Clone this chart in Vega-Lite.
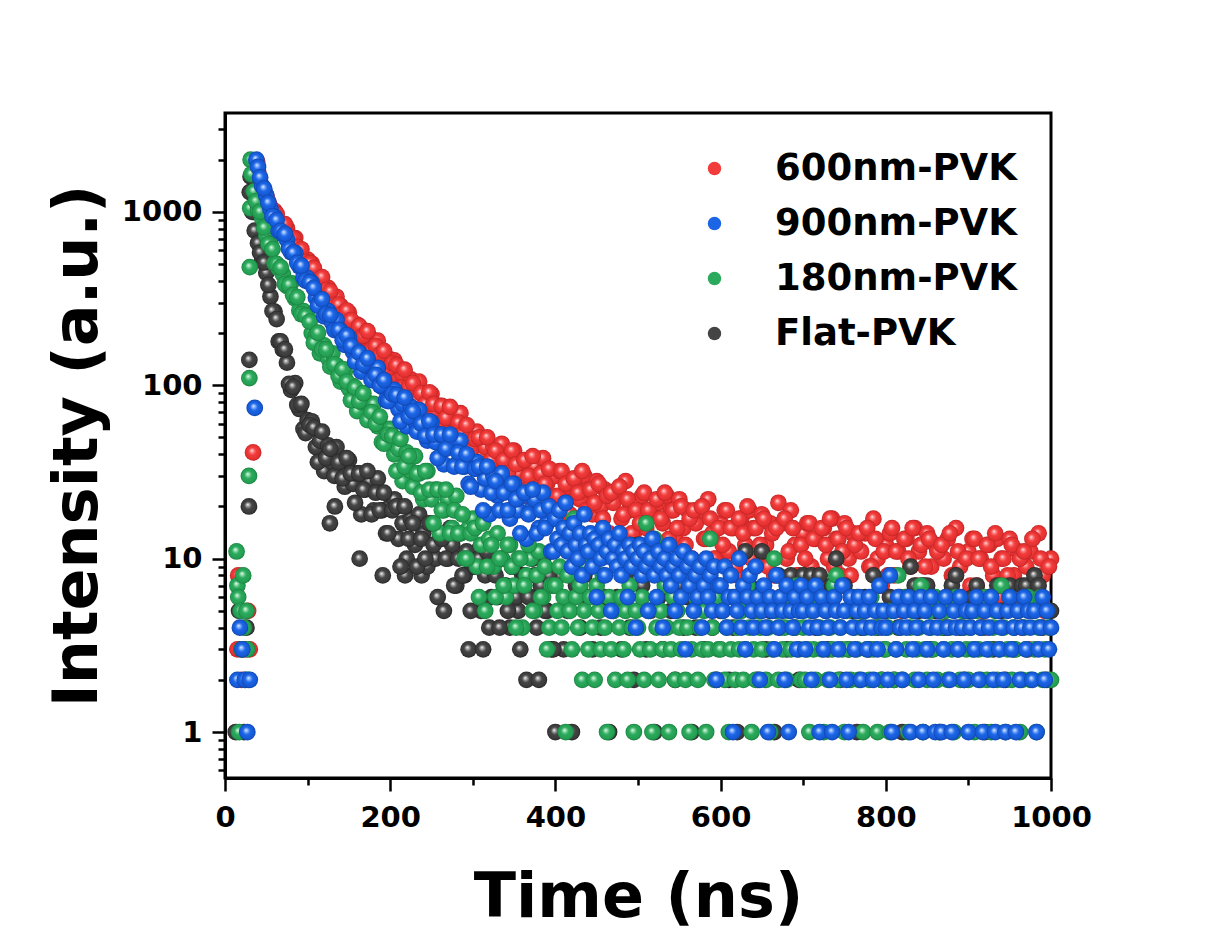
{
"$schema": "https://vega.github.io/schema/vega-lite/v6.json",
"width": 826, "height": 665,
"autosize": {"type": "none"},
"padding": {"left": 225, "top": 113, "right": 157, "bottom": 150},
"background": "white",
"config": {
 "view": {"stroke": "black", "strokeWidth": 3},
 "axis": {"domainColor": "black", "domainWidth": 3, "tickColor": "black", "tickWidth": 2.5, "grid": false,
  "labelFont": "DejaVu Sans", "labelFontWeight": "bold", "labelFontSize": 29, "labelColor": "black",
  "titleFont": "DejaVu Sans", "titleFontWeight": "bold", "titleColor": "black"}
},
"datasets": {
 "legend": [{"s":"600nm-PVK"},{"s":"900nm-PVK"},{"s":"180nm-PVK"},{"s":"Flat-PVK"}],
 "red": [{"t":15,"v":3},{"t":16,"v":8},{"t":20,"v":2},{"t":24,"v":3},{"t":28,"v":5},{"t":30,"v":3},{"t":34,"v":41},{"t":37,"v":1900},{"t":39,"v":1950},
 {"t":40,"v":1716},{"t":45,"v":1313},{"t":50,"v":1245},{"t":55,"v":1070},{"t":60,"v":1012},{"t":65,"v":855},{"t":70,"v":833},{"t":75,"v":805},{"t":80,"v":704},{"t":85,"v":707},{"t":90,"v":605},{"t":95,"v":531},{"t":100,"v":531},{"t":105,"v":504},{"t":110,"v":423},{"t":115,"v":414},{"t":120,"v":347},{"t":125,"v":365},{"t":130,"v":318},{"t":135,"v":324},{"t":140,"v":287},{"t":145,"v":244},{"t":150,"v":262},{"t":155,"v":223},{"t":160,"v":224},{"t":165,"v":179},{"t":170,"v":189},{"t":175,"v":190},{"t":180,"v":160},{"t":185,"v":181},{"t":190,"v":148},{"t":195,"v":128},{"t":200,"v":141},{"t":205,"v":139},{"t":210,"v":111},{"t":215,"v":115},{"t":220,"v":88},{"t":225,"v":108},{"t":230,"v":91},{"t":235,"v":105},{"t":240,"v":90},{"t":245,"v":73},{"t":250,"v":89},{"t":255,"v":71},{"t":260,"v":76},{"t":265,"v":55},{"t":270,"v":65},{"t":275,"v":68},{"t":280,"v":53},{"t":285,"v":69},{"t":290,"v":52},{"t":295,"v":42},{"t":300,"v":51},{"t":305,"v":54},{"t":310,"v":40},{"t":315,"v":44},{"t":320,"v":30},{"t":325,"v":44},{"t":330,"v":36},{"t":335,"v":46},{"t":340,"v":38},{"t":345,"v":29},{"t":350,"v":42},{"t":355,"v":31},{"t":360,"v":36},{"t":365,"v":23},{"t":370,"v":31},{"t":375,"v":34},{"t":380,"v":26},{"t":385,"v":38},{"t":390,"v":27},{"t":395,"v":21},{"t":400,"v":30},{"t":405,"v":32},{"t":410,"v":22},{"t":415,"v":26},{"t":420,"v":16},{"t":425,"v":28},{"t":430,"v":22},{"t":435,"v":30},{"t":440,"v":25},{"t":445,"v":18},{"t":450,"v":28},{"t":455,"v":20},{"t":460,"v":25},{"t":465,"v":14},{"t":470,"v":21},{"t":475,"v":25},{"t":480,"v":17},{"t":485,"v":28},{"t":490,"v":19},{"t":495,"v":14},{"t":500,"v":21},{"t":505,"v":23},{"t":510,"v":15},{"t":515,"v":19},{"t":520,"v":11},{"t":525,"v":21},{"t":530,"v":16},{"t":535,"v":23},{"t":540,"v":19},{"t":545,"v":13},{"t":550,"v":22},{"t":555,"v":15},{"t":560,"v":19},{"t":565,"v":10},{"t":570,"v":16},{"t":575,"v":19},{"t":580,"v":13},{"t":585,"v":22},{"t":590,"v":14},{"t":595,"v":10},{"t":600,"v":16},{"t":605,"v":19},{"t":610,"v":11},{"t":615,"v":15},{"t":620,"v":8},{"t":625,"v":17},{"t":630,"v":12},{"t":635,"v":19},{"t":640,"v":15},{"t":645,"v":10},{"t":650,"v":18},{"t":655,"v":12},{"t":660,"v":16},{"t":665,"v":8},{"t":670,"v":21},{"t":675,"v":16},{"t":680,"v":10},{"t":685,"v":19},{"t":690,"v":12},{"t":695,"v":8},{"t":700,"v":14},{"t":705,"v":16},{"t":710,"v":9},{"t":715,"v":13},{"t":720,"v":6},{"t":725,"v":15},{"t":730,"v":10},{"t":735,"v":17},{"t":740,"v":13},{"t":745,"v":8},{"t":750,"v":16},{"t":755,"v":10},{"t":760,"v":14},{"t":765,"v":6},{"t":770,"v":11},{"t":775,"v":14},{"t":780,"v":9},{"t":785,"v":17},{"t":790,"v":10},{"t":795,"v":7},{"t":800,"v":12},{"t":805,"v":14},{"t":810,"v":8},{"t":815,"v":11},{"t":820,"v":5},{"t":825,"v":13},{"t":830,"v":9},{"t":835,"v":15},{"t":840,"v":11},{"t":845,"v":7},{"t":850,"v":14},{"t":855,"v":9},{"t":860,"v":12},{"t":865,"v":5},{"t":870,"v":10},{"t":875,"v":13},{"t":880,"v":8},{"t":885,"v":15},{"t":890,"v":9},{"t":895,"v":6},{"t":900,"v":11},{"t":905,"v":13},{"t":910,"v":7},{"t":915,"v":10},{"t":920,"v":4},{"t":925,"v":12},{"t":930,"v":8},{"t":935,"v":13},{"t":940,"v":10},{"t":945,"v":6},{"t":950,"v":13},{"t":955,"v":8},{"t":960,"v":11},{"t":965,"v":4},{"t":970,"v":9},{"t":975,"v":11},{"t":980,"v":7},{"t":985,"v":14},{"t":990,"v":8},{"t":995,"v":5},{"t":1000,"v":10},
 {"t":42.5,"v":1473},{"t":47.5,"v":1313},{"t":52.5,"v":1147},{"t":57.5,"v":990},{"t":62.5,"v":973},{"t":67.5,"v":862},{"t":72.5,"v":850},{"t":77.5,"v":726},{"t":82.5,"v":703},{"t":87.5,"v":628},{"t":92.5,"v":609},{"t":97.5,"v":515},{"t":102.5,"v":507},{"t":107.5,"v":475},{"t":112.5,"v":388},{"t":117.5,"v":421},{"t":122.5,"v":355},{"t":127.5,"v":348},{"t":132.5,"v":291},{"t":137.5,"v":292},{"t":142.5,"v":259},{"t":147.5,"v":270},{"t":152.5,"v":238},{"t":157.5,"v":200},{"t":162.5,"v":220},{"t":167.5,"v":193},{"t":172.5,"v":205},{"t":177.5,"v":161},{"t":182.5,"v":169},{"t":187.5,"v":150},{"t":192.5,"v":158},{"t":197.5,"v":125},{"t":202.5,"v":134},{"t":207.5,"v":131},{"t":212.5,"v":97},{"t":217.5,"v":123},{"t":222.5,"v":98},{"t":227.5,"v":103},{"t":232.5,"v":81},{"t":237.5,"v":90},{"t":242.5,"v":78},{"t":247.5,"v":91},{"t":252.5,"v":78},{"t":257.5,"v":60},{"t":262.5,"v":76},{"t":267.5,"v":65},{"t":272.5,"v":75},{"t":277.5,"v":53},{"t":282.5,"v":61},{"t":287.5,"v":52},{"t":292.5,"v":59},{"t":297.5,"v":42},{"t":302.5,"v":49},{"t":307.5,"v":50},{"t":312.5,"v":32},{"t":317.5,"v":50},{"t":322.5,"v":37},{"t":327.5,"v":42},{"t":332.5,"v":30},{"t":337.5,"v":37},{"t":342.5,"v":31},{"t":347.5,"v":42},{"t":352.5,"v":35},{"t":357.5,"v":25},{"t":362.5,"v":37},{"t":367.5,"v":30},{"t":372.5,"v":39},{"t":377.5,"v":24},{"t":382.5,"v":31},{"t":387.5,"v":27},{"t":392.5,"v":33},{"t":397.5,"v":22},
 {"t":402.5,"v":23},{"t":407.5,"v":32},{"t":412.5,"v":27},{"t":417.5,"v":18},{"t":422.5,"v":29},{"t":427.5,"v":24},{"t":432.5,"v":32},{"t":437.5,"v":19},{"t":442.5,"v":25},{"t":447.5,"v":21},{"t":452.5,"v":27},{"t":457.5,"v":17},{"t":462.5,"v":23},{"t":467.5,"v":24},{"t":472.5,"v":12},{"t":477.5,"v":26},{"t":482.5,"v":18},{"t":487.5,"v":22},{"t":492.5,"v":14},{"t":497.5,"v":19},{"t":502.5,"v":16},{"t":507.5,"v":24},{"t":512.5,"v":19},{"t":517.5,"v":12},{"t":522.5,"v":22},{"t":527.5,"v":17},{"t":532.5,"v":24},{"t":537.5,"v":13},{"t":542.5,"v":19},{"t":547.5,"v":15},{"t":552.5,"v":20},{"t":557.5,"v":12},{"t":562.5,"v":17},{"t":567.5,"v":19},{"t":572.5,"v":8},{"t":577.5,"v":20},{"t":582.5,"v":13},{"t":587.5,"v":17},{"t":592.5,"v":10},{"t":597.5,"v":15},{"t":602.5,"v":12},{"t":607.5,"v":19},{"t":612.5,"v":15},{"t":617.5,"v":9},{"t":622.5,"v":17},{"t":627.5,"v":14},{"t":632.5,"v":20},{"t":637.5,"v":10},{"t":642.5,"v":15},{"t":647.5,"v":12},{"t":652.5,"v":17},{"t":657.5,"v":9},{"t":662.5,"v":14},{"t":667.5,"v":15},{"t":672.5,"v":6},{"t":677.5,"v":17},{"t":682.5,"v":11},{"t":687.5,"v":15},{"t":692.5,"v":8},{"t":697.5,"v":12},{"t":702.5,"v":10},{"t":707.5,"v":16},{"t":712.5,"v":13},{"t":717.5,"v":7},{"t":722.5,"v":15},{"t":727.5,"v":12},{"t":732.5,"v":17},{"t":737.5,"v":9},{"t":742.5,"v":13},{"t":747.5,"v":11},{"t":752.5,"v":15},{"t":757.5,"v":8},{"t":762.5,"v":12},{"t":767.5,"v":14},{"t":772.5,"v":5},{"t":777.5,"v":15},{"t":782.5,"v":9},{"t":787.5,"v":13},{"t":792.5,"v":7},{"t":797.5,"v":11},{"t":802.5,"v":8},{"t":807.5,"v":15},{"t":812.5,"v":11},{"t":817.5,"v":6},{"t":822.5,"v":13},{"t":827.5,"v":10},{"t":832.5,"v":15},{"t":837.5,"v":7},{"t":842.5,"v":12},{"t":847.5,"v":9},{"t":852.5,"v":13},{"t":857.5,"v":6},{"t":862.5,"v":11},{"t":867.5,"v":12},{"t":872.5,"v":4},{"t":877.5,"v":14},{"t":882.5,"v":8},{"t":887.5,"v":11},{"t":892.5,"v":6},{"t":897.5,"v":10},{"t":902.5,"v":7},{"t":907.5,"v":13},{"t":912.5,"v":10},{"t":917.5,"v":5},{"t":922.5,"v":12},{"t":927.5,"v":9},{"t":932.5,"v":14},{"t":937.5,"v":6},{"t":942.5,"v":10},{"t":947.5,"v":8},{"t":952.5,"v":12},{"t":957.5,"v":6},{"t":962.5,"v":10},{"t":967.5,"v":11},{"t":972.5,"v":3},{"t":977.5,"v":13},{"t":982.5,"v":7},{"t":987.5,"v":10},{"t":992.5,"v":5},{"t":997.5,"v":9}],
 "black": [{"t":13,"v":1},{"t":17,"v":5},{"t":20,"v":3},{"t":23,"v":1},{"t":26,"v":4},{"t":29,"v":20},{"t":29.5,"v":140},{"t":30,"v":1300},{"t":31,"v":1600},{"t":33,"v":1000},{"t":36,"v":780},
 {"t":40,"v":660},{"t":45,"v":527},{"t":50,"v":446},{"t":55,"v":325},{"t":60,"v":266},{"t":65,"v":179},{"t":70,"v":161},{"t":75,"v":135},{"t":80,"v":94},{"t":85,"v":103},{"t":90,"v":73},{"t":95,"v":56},{"t":100,"v":63},{"t":105,"v":62},{"t":110,"v":44},{"t":115,"v":48},{"t":120,"v":32},{"t":125,"v":45},{"t":127,"v":16},{"t":130,"v":36},{"t":133,"v":20},{"t":135,"v":44},{"t":140,"v":36},{"t":145,"v":26},{"t":150,"v":37},{"t":155,"v":27},{"t":160,"v":31},{"t":163,"v":10},{"t":165,"v":18},{"t":170,"v":25},{"t":175,"v":28},{"t":180,"v":19},{"t":185,"v":29},{"t":190,"v":19},{"t":191,"v":8},{"t":195,"v":14},{"t":200,"v":20},{"t":205,"v":22},{"t":210,"v":13},{"t":215,"v":16},{"t":218,"v":8},{"t":220,"v":10},{"t":225,"v":17},{"t":230,"v":12},{"t":235,"v":18},{"t":238,"v":8},{"t":240,"v":14},{"t":245,"v":9},{"t":250,"v":16},{"t":255,"v":10},{"t":260,"v":13},{"t":265,"v":5},{"t":270,"v":10},{"t":275,"v":12},{"t":280,"v":7},{"t":285,"v":14},{"t":290,"v":8},{"t":295,"v":3},{"t":300,"v":9},{"t":305,"v":11},{"t":310,"v":5},{"t":315,"v":8},{"t":320,"v":4},{"t":325,"v":9},{"t":330,"v":6},{"t":335,"v":10},{"t":340,"v":7},{"t":345,"v":4},{"t":350,"v":9},{"t":355,"v":5},{"t":360,"v":8},{"t":365,"v":2},{"t":370,"v":6},{"t":375,"v":8},{"t":380,"v":2},{"t":385,"v":10},{"t":390,"v":5},{"t":395,"v":3},{"t":400,"v":1},{"t":405,"v":8},{"t":410,"v":3},{"t":415,"v":5},{"t":420,"v":1},{"t":425,"v":7},{"t":430,"v":4},{"t":435,"v":8},{"t":440,"v":6},{"t":445,"v":3},{"t":450,"v":13},{"t":455,"v":4},{"t":460,"v":6},{"t":465,"v":1},{"t":470,"v":5},{"t":475,"v":6},{"t":480,"v":3},{"t":485,"v":8},{"t":490,"v":4},{"t":495,"v":2},{"t":500,"v":12},{"t":505,"v":7},{"t":510,"v":3},{"t":515,"v":5},{"t":520,"v":1},{"t":525,"v":6},{"t":530,"v":3},{"t":535,"v":7},{"t":540,"v":5},{"t":545,"v":2},{"t":550,"v":7},{"t":555,"v":4},{"t":560,"v":6},{"t":565,"v":1},{"t":570,"v":4},{"t":575,"v":6},{"t":580,"v":3},{"t":585,"v":8},{"t":590,"v":4},{"t":595,"v":2},{"t":600,"v":5},{"t":605,"v":6},{"t":610,"v":2},{"t":615,"v":4},{"t":620,"v":1},{"t":625,"v":6},{"t":630,"v":11},{"t":635,"v":7},{"t":640,"v":5},{"t":645,"v":2},{"t":650,"v":11},{"t":655,"v":3},{"t":660,"v":5},{"t":665,"v":1},{"t":670,"v":8},{"t":675,"v":6},{"t":680,"v":3},{"t":685,"v":8},{"t":690,"v":4},{"t":695,"v":2},{"t":700,"v":8},{"t":705,"v":6},{"t":710,"v":8},{"t":715,"v":4},{"t":720,"v":8},{"t":725,"v":6},{"t":730,"v":3},{"t":735,"v":7},{"t":740,"v":10},{"t":745,"v":2},{"t":750,"v":7},{"t":755,"v":3},{"t":760,"v":5},{"t":765,"v":1},{"t":770,"v":4},{"t":775,"v":6},{"t":780,"v":3},{"t":785,"v":8},{"t":790,"v":4},{"t":795,"v":2},{"t":800,"v":5},{"t":805,"v":6},{"t":810,"v":2},{"t":815,"v":4},{"t":820,"v":1},{"t":825,"v":6},{"t":830,"v":9},{"t":835,"v":7},{"t":840,"v":5},{"t":845,"v":7},{"t":850,"v":7},{"t":855,"v":3},{"t":860,"v":5},{"t":865,"v":1},{"t":870,"v":4},{"t":875,"v":6},{"t":880,"v":7},{"t":885,"v":8},{"t":890,"v":4},{"t":895,"v":2},{"t":900,"v":5},{"t":905,"v":6},{"t":910,"v":7},{"t":915,"v":4},{"t":920,"v":1},{"t":925,"v":6},{"t":930,"v":3},{"t":935,"v":7},{"t":940,"v":5},{"t":945,"v":2},{"t":950,"v":7},{"t":955,"v":3},{"t":960,"v":5},{"t":965,"v":7},{"t":970,"v":7},{"t":975,"v":6},{"t":980,"v":8},{"t":985,"v":7},{"t":990,"v":4},{"t":995,"v":2},{"t":1000,"v":5},
 {"t":42.5,"v":583},{"t":47.5,"v":511},{"t":52.5,"v":379},{"t":57.5,"v":268},{"t":62.5,"v":241},{"t":67.5,"v":179},{"t":72.5,"v":161},{"t":77.5,"v":102},{"t":82.5,"v":98},{"t":87.5,"v":77},{"t":92.5,"v":78},{"t":97.5,"v":53},{"t":102.5,"v":59},{"t":107.5,"v":57},{"t":112.5,"v":36},{"t":117.5,"v":54},{"t":122.5,"v":38},{"t":127.5,"v":43},{"t":132.5,"v":30},{"t":137.5,"v":36},{"t":142.5,"v":29},{"t":147.5,"v":38},{"t":152.5,"v":31},{"t":157.5,"v":21},{"t":162.5,"v":31},{"t":167.5,"v":25},{"t":172.5,"v":32},{"t":177.5,"v":18},{"t":182.5,"v":24},{"t":187.5,"v":19},{"t":192.5,"v":24},{"t":197.5,"v":14},{"t":202.5,"v":19},{"t":207.5,"v":20},{"t":212.5,"v":9},{"t":217.5,"v":20},{"t":222.5,"v":13},{"t":227.5,"v":16},{"t":232.5,"v":9},{"t":237.5,"v":13},{"t":242.5,"v":10},{"t":247.5,"v":16},{"t":252.5,"v":12},{"t":257.5,"v":6},{"t":262.5,"v":13},{"t":267.5,"v":10},{"t":272.5,"v":15},{"t":277.5,"v":7},{"t":282.5,"v":10},{"t":287.5,"v":8},{"t":292.5,"v":11},{"t":297.5,"v":5},{"t":302.5,"v":9},{"t":307.5,"v":10},{"t":312.5,"v":3},{"t":317.5,"v":11},{"t":322.5,"v":6},{"t":327.5,"v":8},{"t":332.5,"v":4},{"t":337.5,"v":7},{"t":342.5,"v":5},{"t":347.5,"v":9},{"t":352.5,"v":6},{"t":357.5,"v":3},{"t":362.5,"v":8},{"t":367.5,"v":6},{"t":372.5,"v":10},{"t":377.5,"v":4},{"t":382.5,"v":7},{"t":387.5,"v":5},{"t":392.5,"v":8},{"t":397.5,"v":3}],
 "green": [{"t":14,"v":11},{"t":15,"v":7},{"t":16,"v":6},{"t":17,"v":1},{"t":19,"v":5},{"t":20,"v":3},{"t":22,"v":8},{"t":23,"v":4},{"t":25,"v":2},{"t":26,"v":5},{"t":27,"v":3},{"t":28,"v":2},{"t":29,"v":30},{"t":29.5,"v":110},{"t":30,"v":480},{"t":30.5,"v":1050},{"t":31,"v":2000},{"t":32,"v":1650},
 {"t":35,"v":1314},{"t":40,"v":1027},{"t":45,"v":919},{"t":50,"v":732},{"t":55,"v":658},{"t":60,"v":505},{"t":65,"v":472},{"t":70,"v":438},{"t":75,"v":373},{"t":80,"v":389},{"t":85,"v":316},{"t":90,"v":270},{"t":95,"v":268},{"t":100,"v":252},{"t":105,"v":200},{"t":110,"v":195},{"t":115,"v":153},{"t":120,"v":170},{"t":125,"v":143},{"t":130,"v":153},{"t":135,"v":130},{"t":140,"v":105},{"t":145,"v":120},{"t":150,"v":96},{"t":155,"v":99},{"t":160,"v":71},{"t":165,"v":80},{"t":170,"v":81},{"t":175,"v":63},{"t":180,"v":78},{"t":185,"v":58},{"t":190,"v":47},{"t":195,"v":56},{"t":200,"v":56},{"t":205,"v":40},{"t":210,"v":43},{"t":215,"v":28},{"t":220,"v":41},{"t":225,"v":32},{"t":230,"v":39},{"t":235,"v":31},{"t":240,"v":22},{"t":245,"v":32},{"t":250,"v":22},{"t":255,"v":25},{"t":260,"v":14},{"t":265,"v":19},{"t":270,"v":22},{"t":275,"v":15},{"t":280,"v":23},{"t":285,"v":14},{"t":290,"v":10},{"t":295,"v":15},{"t":300,"v":17},{"t":305,"v":9},{"t":310,"v":12},{"t":315,"v":5},{"t":320,"v":13},{"t":325,"v":9},{"t":330,"v":14},{"t":335,"v":10},{"t":340,"v":6},{"t":345,"v":12},{"t":350,"v":7},{"t":355,"v":10},{"t":360,"v":4},{"t":365,"v":8},{"t":370,"v":10},{"t":375,"v":5},{"t":380,"v":11},{"t":385,"v":6},{"t":390,"v":3},{"t":395,"v":7},
 {"t":37.5,"v":1151},{"t":42.5,"v":1002},{"t":47.5,"v":811},{"t":52.5,"v":652},{"t":57.5,"v":610},{"t":62.5,"v":502},{"t":67.5,"v":478},{"t":72.5,"v":384},{"t":77.5,"v":380},{"t":82.5,"v":331},{"t":87.5,"v":322},{"t":92.5,"v":257},{"t":97.5,"v":252},{"t":102.5,"v":233},{"t":107.5,"v":176},{"t":112.5,"v":201},{"t":117.5,"v":161},{"t":122.5,"v":161},{"t":127.5,"v":128},{"t":132.5,"v":132},{"t":137.5,"v":113},{"t":142.5,"v":124},{"t":147.5,"v":105},{"t":152.5,"v":82},{"t":157.5,"v":97},{"t":162.5,"v":81},{"t":167.5,"v":90},{"t":172.5,"v":63},{"t":177.5,"v":70},{"t":182.5,"v":60},{"t":187.5,"v":66},{"t":192.5,"v":46},{"t":197.5,"v":52},{"t":202.5,"v":51},{"t":207.5,"v":32},{"t":212.5,"v":49},{"t":217.5,"v":34},{"t":222.5,"v":39},{"t":227.5,"v":26},{"t":232.5,"v":31},{"t":237.5,"v":24},{"t":242.5,"v":32},{"t":247.5,"v":25},{"t":252.5,"v":16},{"t":257.5,"v":25},{"t":262.5,"v":19},{"t":267.5,"v":25},{"t":272.5,"v":14},{"t":277.5,"v":19},{"t":282.5,"v":14},{"t":287.5,"v":18},{"t":292.5,"v":10},{"t":297.5,"v":14},{"t":302.5,"v":15},{"t":307.5,"v":6},{"t":312.5,"v":16},{"t":317.5,"v":9},{"t":322.5,"v":12},{"t":327.5,"v":6},{"t":332.5,"v":10},{"t":337.5,"v":7},{"t":342.5,"v":12},{"t":347.5,"v":9},{"t":352.5,"v":4},{"t":357.5,"v":10},{"t":362.5,"v":7},{"t":367.5,"v":12},{"t":372.5,"v":5},{"t":377.5,"v":8},{"t":382.5,"v":6},{"t":387.5,"v":9},{"t":392.5,"v":4},{"t":397.5,"v":7},
 {"t":400,"v":7},{"t":402.5,"v":5},{"t":405,"v":9},{"t":407.5,"v":4},{"t":410,"v":6},{"t":412.5,"v":1},{"t":415,"v":8},{"t":417.5,"v":5},{"t":420,"v":3},{"t":422.5,"v":17},{"t":425,"v":6},{"t":427.5,"v":4},{"t":430,"v":7},{"t":432.5,"v":2},{"t":435,"v":5},{"t":437.5,"v":9},{"t":440,"v":3},{"t":442.5,"v":6},{"t":445,"v":4},{"t":447.5,"v":2},{"t":450,"v":7},{"t":452.5,"v":5},{"t":455,"v":3},{"t":457.5,"v":8},{"t":460,"v":4},{"t":462.5,"v":1},{"t":465,"v":6},{"t":467.5,"v":3},{"t":470,"v":5},{"t":472.5,"v":2},{"t":475,"v":11},{"t":477.5,"v":4},{"t":480,"v":6},{"t":482.5,"v":3},{"t":485,"v":5},{"t":487.5,"v":2},{"t":490,"v":7},{"t":492.5,"v":4},{"t":495,"v":1},{"t":497.5,"v":5},
 {"t":500,"v":4},{"t":502.5,"v":3},{"t":505,"v":6},{"t":507.5,"v":2},{"t":510,"v":16},{"t":512.5,"v":5},{"t":515,"v":3},{"t":517.5,"v":1},{"t":520,"v":13},{"t":522.5,"v":4},{"t":525,"v":2},{"t":527.5,"v":5},{"t":530,"v":3},{"t":532.5,"v":7},{"t":535,"v":4},{"t":537.5,"v":1},{"t":540,"v":3},{"t":542.5,"v":6},{"t":545,"v":2},{"t":547.5,"v":5},{"t":550,"v":4},{"t":552.5,"v":3},{"t":555,"v":8},{"t":557.5,"v":2},{"t":560,"v":4},{"t":562.5,"v":1},{"t":565,"v":3},{"t":567.5,"v":5},{"t":570,"v":6},{"t":572.5,"v":2},{"t":575,"v":4},{"t":577.5,"v":3},{"t":580,"v":5},{"t":582.5,"v":1},{"t":585,"v":3},{"t":587.5,"v":13},{"t":590,"v":4},{"t":592.5,"v":2},{"t":595,"v":6},{"t":597.5,"v":3},
 {"t":600,"v":3},{"t":602.5,"v":5},{"t":605,"v":2},{"t":607.5,"v":4},{"t":610,"v":1},{"t":612.5,"v":3},{"t":615,"v":6},{"t":617.5,"v":2},{"t":620,"v":4},{"t":622.5,"v":3},{"t":625,"v":5},{"t":627.5,"v":2},{"t":630,"v":3},{"t":632.5,"v":7},{"t":635,"v":4},{"t":637.5,"v":1},{"t":640,"v":3},{"t":642.5,"v":2},{"t":645,"v":5},{"t":647.5,"v":4},{"t":650,"v":3},{"t":652.5,"v":6},{"t":655,"v":2},{"t":657.5,"v":4},{"t":660,"v":1},{"t":662.5,"v":3},{"t":665,"v":10},{"t":667.5,"v":5},{"t":670,"v":2},{"t":672.5,"v":4},{"t":675,"v":3},{"t":677.5,"v":4},{"t":680,"v":2},{"t":682.5,"v":5},{"t":685,"v":3},{"t":687.5,"v":6},{"t":690,"v":4},{"t":692.5,"v":7},{"t":695,"v":3},{"t":697.5,"v":2},
 {"t":700,"v":4},{"t":702.5,"v":2},{"t":705,"v":3},{"t":707.5,"v":1},{"t":710,"v":5},{"t":712.5,"v":3},{"t":715,"v":2},{"t":717.5,"v":6},{"t":720,"v":4},{"t":722.5,"v":3},{"t":725,"v":1},{"t":727.5,"v":5},{"t":730,"v":2},{"t":732.5,"v":4},{"t":735,"v":3},{"t":737.5,"v":7},{"t":740,"v":8},{"t":742.5,"v":2},{"t":745,"v":4},{"t":747.5,"v":3},{"t":750,"v":1},{"t":752.5,"v":5},{"t":755,"v":3},{"t":757.5,"v":2},{"t":760,"v":6},{"t":762.5,"v":4},{"t":765,"v":3},{"t":767.5,"v":2},{"t":770,"v":5},{"t":772.5,"v":1},{"t":775,"v":4},{"t":777.5,"v":3},{"t":780,"v":2},{"t":782.5,"v":6},{"t":785,"v":3},{"t":787.5,"v":4},{"t":790,"v":1},{"t":792.5,"v":5},{"t":795,"v":2},{"t":797.5,"v":3},
 {"t":800,"v":3},{"t":802.5,"v":4},{"t":805,"v":1},{"t":807.5,"v":5},{"t":810,"v":2},{"t":812.5,"v":3},{"t":815,"v":8},{"t":817.5,"v":4},{"t":820,"v":2},{"t":822.5,"v":6},{"t":825,"v":3},{"t":827.5,"v":1},{"t":830,"v":4},{"t":832.5,"v":5},{"t":835,"v":2},{"t":837.5,"v":3},{"t":840,"v":4},{"t":842.5,"v":7},{"t":845,"v":1},{"t":847.5,"v":3},{"t":850,"v":2},{"t":852.5,"v":5},{"t":855,"v":4},{"t":857.5,"v":3},{"t":860,"v":6},{"t":862.5,"v":2},{"t":865,"v":1},{"t":867.5,"v":4},{"t":870,"v":3},{"t":872.5,"v":5},{"t":875,"v":2},{"t":877.5,"v":4},{"t":880,"v":3},{"t":882.5,"v":1},{"t":885,"v":6},{"t":887.5,"v":3},{"t":890,"v":2},{"t":892.5,"v":5},{"t":895,"v":4},{"t":897.5,"v":3},
 {"t":900,"v":2},{"t":902.5,"v":4},{"t":905,"v":3},{"t":907.5,"v":1},{"t":910,"v":5},{"t":912.5,"v":3},{"t":915,"v":2},{"t":917.5,"v":4},{"t":920,"v":6},{"t":922.5,"v":2},{"t":925,"v":3},{"t":927.5,"v":1},{"t":930,"v":4},{"t":932.5,"v":5},{"t":935,"v":2},{"t":937.5,"v":3},{"t":940,"v":7},{"t":942.5,"v":4},{"t":945,"v":1},{"t":947.5,"v":3},{"t":950,"v":6},{"t":952.5,"v":2},{"t":955,"v":4},{"t":957.5,"v":3},{"t":960,"v":5},{"t":962.5,"v":1},{"t":965,"v":2},{"t":967.5,"v":4},{"t":970,"v":3},{"t":972.5,"v":6},{"t":975,"v":2},{"t":977.5,"v":5},{"t":980,"v":3},{"t":982.5,"v":1},{"t":985,"v":4},{"t":987.5,"v":6},{"t":990,"v":2},{"t":992.5,"v":3},{"t":995,"v":5},{"t":997.5,"v":4},{"t":1000,"v":2}],
 "blue": [{"t":15,"v":2},{"t":18,"v":4},{"t":21,"v":3},{"t":24,"v":2},{"t":27,"v":1},{"t":30,"v":2},{"t":36,"v":74},{"t":38,"v":2000},
 {"t":40,"v":1817},{"t":45,"v":1412},{"t":50,"v":1245},{"t":55,"v":1040},{"t":60,"v":941},{"t":65,"v":777},{"t":70,"v":743},{"t":75,"v":693},{"t":80,"v":585},{"t":85,"v":581},{"t":90,"v":486},{"t":95,"v":420},{"t":100,"v":415},{"t":105,"v":391},{"t":110,"v":320},{"t":115,"v":308},{"t":120,"v":250},{"t":125,"v":268},{"t":130,"v":229},{"t":135,"v":238},{"t":140,"v":206},{"t":145,"v":171},{"t":150,"v":189},{"t":155,"v":156},{"t":160,"v":157},{"t":165,"v":120},{"t":170,"v":130},{"t":175,"v":131},{"t":180,"v":108},{"t":185,"v":126},{"t":190,"v":98},{"t":195,"v":82},{"t":200,"v":94},{"t":205,"v":94},{"t":210,"v":73},{"t":215,"v":78},{"t":220,"v":58},{"t":225,"v":75},{"t":230,"v":62},{"t":235,"v":72},{"t":240,"v":61},{"t":245,"v":48},{"t":250,"v":61},{"t":255,"v":47},{"t":260,"v":52},{"t":265,"v":35},{"t":270,"v":44},{"t":275,"v":47},{"t":280,"v":35},{"t":285,"v":48},{"t":290,"v":34},{"t":295,"v":27},{"t":300,"v":35},{"t":305,"v":36},{"t":310,"v":25},{"t":315,"v":29},{"t":320,"v":18},{"t":325,"v":30},{"t":330,"v":23},{"t":335,"v":31},{"t":340,"v":25},{"t":345,"v":17},{"t":350,"v":27},{"t":355,"v":19},{"t":360,"v":23},{"t":365,"v":13},{"t":370,"v":19},{"t":375,"v":22},{"t":380,"v":15},{"t":385,"v":24},{"t":390,"v":16},{"t":395,"v":11},
 {"t":42.5,"v":1582},{"t":47.5,"v":1363},{"t":52.5,"v":1127},{"t":57.5,"v":942},{"t":62.5,"v":897},{"t":67.5,"v":777},{"t":72.5,"v":747},{"t":77.5,"v":612},{"t":82.5,"v":582},{"t":87.5,"v":508},{"t":92.5,"v":489},{"t":97.5,"v":402},{"t":102.5,"v":393},{"t":107.5,"v":365},{"t":112.5,"v":288},{"t":117.5,"v":313},{"t":122.5,"v":258},{"t":127.5,"v":254},{"t":132.5,"v":208},{"t":137.5,"v":209},{"t":142.5,"v":182},{"t":147.5,"v":194},{"t":152.5,"v":169},{"t":157.5,"v":137},{"t":162.5,"v":154},{"t":167.5,"v":132},{"t":172.5,"v":143},{"t":177.5,"v":107},{"t":182.5,"v":115},{"t":187.5,"v":100},{"t":192.5,"v":107},{"t":197.5,"v":81},{"t":202.5,"v":89},{"t":207.5,"v":88},{"t":212.5,"v":62},{"t":217.5,"v":85},{"t":222.5,"v":66},{"t":227.5,"v":71},{"t":232.5,"v":54},{"t":237.5,"v":60},{"t":242.5,"v":51},{"t":247.5,"v":62},{"t":252.5,"v":52},{"t":257.5,"v":38},{"t":262.5,"v":52},{"t":267.5,"v":43},{"t":272.5,"v":52},{"t":277.5,"v":34},{"t":282.5,"v":41},{"t":287.5,"v":34},{"t":292.5,"v":40},{"t":297.5,"v":26},{"t":302.5,"v":33},{"t":307.5,"v":34},{"t":312.5,"v":19},{"t":317.5,"v":34},{"t":322.5,"v":24},{"t":327.5,"v":28},{"t":332.5,"v":19},{"t":337.5,"v":24},{"t":342.5,"v":19},{"t":347.5,"v":27},{"t":352.5,"v":22},{"t":357.5,"v":14},{"t":362.5,"v":24},{"t":367.5,"v":18},{"t":372.5,"v":25},{"t":377.5,"v":14},{"t":382.5,"v":19},{"t":387.5,"v":15},{"t":392.5,"v":20},{"t":397.5,"v":11},
 {"t":400,"v":17},{"t":402.5,"v":13},{"t":405,"v":19},{"t":407.5,"v":12},{"t":410,"v":15},{"t":412.5,"v":21},{"t":415,"v":11},{"t":417.5,"v":14},{"t":420,"v":9},{"t":422.5,"v":16},{"t":425,"v":12},{"t":427.5,"v":10},{"t":430,"v":14},{"t":432.5,"v":8},{"t":435,"v":18},{"t":437.5,"v":12},{"t":440,"v":11},{"t":442.5,"v":14},{"t":445,"v":9},{"t":447.5,"v":13},{"t":450,"v":6},{"t":452.5,"v":12},{"t":455,"v":10},{"t":457.5,"v":15},{"t":460,"v":8},{"t":462.5,"v":11},{"t":465,"v":13},{"t":467.5,"v":5},{"t":470,"v":10},{"t":472.5,"v":12},{"t":475,"v":9},{"t":477.5,"v":14},{"t":480,"v":8},{"t":482.5,"v":11},{"t":485,"v":10},{"t":487.5,"v":6},{"t":490,"v":12},{"t":492.5,"v":9},{"t":495,"v":11},{"t":497.5,"v":4},
 {"t":500,"v":10},{"t":502.5,"v":12},{"t":505,"v":8},{"t":507.5,"v":11},{"t":510,"v":9},{"t":512.5,"v":5},{"t":515,"v":10},{"t":517.5,"v":13},{"t":520,"v":8},{"t":522.5,"v":6},{"t":525,"v":11},{"t":527.5,"v":9},{"t":530,"v":4},{"t":532.5,"v":10},{"t":535,"v":8},{"t":537.5,"v":12},{"t":540,"v":7},{"t":542.5,"v":9},{"t":545,"v":5},{"t":547.5,"v":10},{"t":550,"v":8},{"t":552.5,"v":6},{"t":555,"v":11},{"t":557.5,"v":3},{"t":560,"v":9},{"t":562.5,"v":7},{"t":565,"v":10},{"t":567.5,"v":5},{"t":570,"v":8},{"t":572.5,"v":6},{"t":575,"v":9},{"t":577.5,"v":4},{"t":580,"v":7},{"t":582.5,"v":10},{"t":585,"v":6},{"t":587.5,"v":8},{"t":590,"v":5},{"t":592.5,"v":9},{"t":595,"v":2},{"t":597.5,"v":7},
 {"t":600,"v":7},{"t":602.5,"v":5},{"t":605,"v":9},{"t":607.5,"v":4},{"t":610,"v":6},{"t":612.5,"v":8},{"t":615,"v":1},{"t":617.5,"v":6},{"t":620,"v":5},{"t":622.5,"v":10},{"t":625,"v":4},{"t":627.5,"v":7},{"t":630,"v":3},{"t":632.5,"v":6},{"t":635,"v":8},{"t":637.5,"v":5},{"t":640,"v":4},{"t":642.5,"v":9},{"t":645,"v":6},{"t":647.5,"v":2},{"t":650,"v":5},{"t":652.5,"v":7},{"t":655,"v":4},{"t":657.5,"v":1},{"t":660,"v":6},{"t":662.5,"v":5},{"t":665,"v":3},{"t":667.5,"v":8},{"t":670,"v":4},{"t":672.5,"v":6},{"t":675,"v":5},{"t":677.5,"v":2},{"t":680,"v":7},{"t":682.5,"v":1},{"t":685,"v":5},{"t":687.5,"v":4},{"t":690,"v":6},{"t":692.5,"v":3},{"t":695,"v":5},{"t":697.5,"v":7},
 {"t":700,"v":5},{"t":702.5,"v":3},{"t":705,"v":6},{"t":707.5,"v":4},{"t":710,"v":2},{"t":712.5,"v":5},{"t":715,"v":7},{"t":717.5,"v":4},{"t":720,"v":1},{"t":722.5,"v":6},{"t":725,"v":3},{"t":727.5,"v":5},{"t":730,"v":4},{"t":732.5,"v":2},{"t":735,"v":1},{"t":737.5,"v":6},{"t":740,"v":5},{"t":742.5,"v":3},{"t":745,"v":4},{"t":747.5,"v":7},{"t":750,"v":5},{"t":752.5,"v":2},{"t":755,"v":1},{"t":757.5,"v":6},{"t":760,"v":4},{"t":762.5,"v":3},{"t":765,"v":5},{"t":767.5,"v":6},{"t":770,"v":2},{"t":772.5,"v":4},{"t":775,"v":5},{"t":777.5,"v":3},{"t":780,"v":6},{"t":782.5,"v":4},{"t":785,"v":2},{"t":787.5,"v":5},{"t":790,"v":3},{"t":792.5,"v":7},{"t":795,"v":4},{"t":797.5,"v":5},
 {"t":800,"v":4},{"t":802.5,"v":2},{"t":805,"v":8},{"t":807.5,"v":1},{"t":810,"v":5},{"t":812.5,"v":3},{"t":815,"v":6},{"t":817.5,"v":4},{"t":820,"v":2},{"t":822.5,"v":5},{"t":825,"v":4},{"t":827.5,"v":6},{"t":830,"v":1},{"t":832.5,"v":3},{"t":835,"v":5},{"t":837.5,"v":4},{"t":840,"v":2},{"t":842.5,"v":6},{"t":845,"v":1},{"t":847.5,"v":5},{"t":850,"v":3},{"t":852.5,"v":4},{"t":855,"v":6},{"t":857.5,"v":2},{"t":860,"v":1},{"t":862.5,"v":4},{"t":865,"v":5},{"t":867.5,"v":1},{"t":870,"v":3},{"t":872.5,"v":6},{"t":875,"v":4},{"t":877.5,"v":2},{"t":880,"v":1},{"t":882.5,"v":5},{"t":885,"v":4},{"t":887.5,"v":3},{"t":890,"v":6},{"t":892.5,"v":4},{"t":895,"v":2},{"t":897.5,"v":5},
 {"t":900,"v":1},{"t":902.5,"v":4},{"t":905,"v":5},{"t":907.5,"v":3},{"t":910,"v":6},{"t":912.5,"v":2},{"t":915,"v":4},{"t":917.5,"v":1},{"t":920,"v":5},{"t":922.5,"v":3},{"t":925,"v":4},{"t":927.5,"v":6},{"t":930,"v":2},{"t":932.5,"v":1},{"t":935,"v":5},{"t":937.5,"v":3},{"t":940,"v":4},{"t":942.5,"v":2},{"t":945,"v":1},{"t":947.5,"v":5},{"t":950,"v":6},{"t":952.5,"v":3},{"t":955,"v":4},{"t":957.5,"v":1},{"t":960,"v":5},{"t":962.5,"v":2},{"t":965,"v":4},{"t":967.5,"v":6},{"t":970,"v":3},{"t":972.5,"v":5},{"t":975,"v":4},{"t":977.5,"v":2},{"t":980,"v":5},{"t":982.5,"v":1},{"t":985,"v":3},{"t":987.5,"v":4},{"t":990,"v":6},{"t":992.5,"v":2},{"t":995,"v":5},{"t":997.5,"v":3},{"t":1000,"v":4}]
},
"layer": [
 {"data": {"name": "red"},
  "mark": {"type": "point", "filled": true, "size": 280, "opacity": 1,
   "fill": {"gradient": "radial", "x1": 0.42, "y1": 0.38, "r1": 0, "x2": 0.5, "y2": 0.5, "r2": 0.5,
    "stops": [{"offset": 0, "color": "#fff4f4"}, {"offset": 0.18, "color": "#ff8c8c"}, {"offset": 0.45, "color": "#f23c3c"}, {"offset": 0.85, "color": "#e43030"}, {"offset": 1, "color": "#bb2222"}]}},
  "encoding": {
   "x": {"field": "t", "type": "quantitative", "scale": {"domain": [0, 1000], "nice": false, "zero": false},
    "axis": {"orient": "bottom", "values": [0, 200, 400, 600, 800, 1000], "format": "d", "tickSize": 13, "labelPadding": 12, "labelFlush": false, "title": "Time (ns)", "titleFontSize": 62, "titlePadding": 35}},
   "y": {"field": "v", "type": "quantitative", "scale": {"type": "log", "domain": [0.543, 3720], "nice": false},
    "axis": {"orient": "left", "values": [1, 10, 100, 1000], "format": "d", "tickSize": 13, "labelPadding": 10, "labelOverlap": false, "title": "Intensity (a.u.)", "titleFontSize": 62, "titlePadding": 12}}
  }},
 {"data": {"name": "black"},
  "mark": {"type": "point", "filled": true, "size": 280, "opacity": 1,
   "fill": {"gradient": "radial", "x1": 0.42, "y1": 0.38, "r1": 0, "x2": 0.5, "y2": 0.5, "r2": 0.5,
    "stops": [{"offset": 0, "color": "#ffffff"}, {"offset": 0.18, "color": "#a8a8a8"}, {"offset": 0.45, "color": "#454545"}, {"offset": 0.85, "color": "#3a3a3a"}, {"offset": 1, "color": "#222222"}]}},
  "encoding": {
   "x": {"field": "t", "type": "quantitative",
    "axis": {"orient": "bottom", "values": [100, 300, 500, 700, 900], "tickSize": 7, "labels": false, "domain": false, "title": null}},
   "y": {"field": "v", "type": "quantitative",
    "axis": {"orient": "left", "values": [0.6, 0.7, 0.8, 0.9, 2, 3, 4, 5, 6, 7, 8, 9, 20, 30, 40, 50, 60, 70, 80, 90, 200, 300, 400, 500, 600, 700, 800, 900, 2000, 3000], "tickSize": 7, "labels": false, "domain": false, "title": null}}
  }},
 {"data": {"name": "green"},
  "mark": {"type": "point", "filled": true, "size": 280, "opacity": 1,
   "fill": {"gradient": "radial", "x1": 0.42, "y1": 0.38, "r1": 0, "x2": 0.5, "y2": 0.5, "r2": 0.5,
    "stops": [{"offset": 0, "color": "#f2fff6"}, {"offset": 0.18, "color": "#92dcac"}, {"offset": 0.45, "color": "#2ba95c"}, {"offset": 0.85, "color": "#239f52"}, {"offset": 1, "color": "#187a3c"}]}},
  "encoding": {
   "x": {"field": "t", "type": "quantitative", "axis": null},
   "y": {"field": "v", "type": "quantitative", "axis": null}
  }},
 {"data": {"name": "blue"},
  "mark": {"type": "point", "filled": true, "size": 280, "opacity": 1,
   "fill": {"gradient": "radial", "x1": 0.42, "y1": 0.38, "r1": 0, "x2": 0.5, "y2": 0.5, "r2": 0.5,
    "stops": [{"offset": 0, "color": "#f2f7ff"}, {"offset": 0.18, "color": "#86b4ff"}, {"offset": 0.45, "color": "#1c66e6"}, {"offset": 0.85, "color": "#1558d4"}, {"offset": 1, "color": "#0d40a6"}]}},
  "encoding": {
   "x": {"field": "t", "type": "quantitative", "axis": null},
   "y": {"field": "v", "type": "quantitative", "axis": null}
  }},
 {"data": {"name": "legend"},
  "mark": {"type": "point", "filled": true, "opacity": 0},
  "encoding": {
   "color": {"field": "s", "type": "nominal",
    "scale": {"domain": ["600nm-PVK", "900nm-PVK", "180nm-PVK", "Flat-PVK"], "range": ["#f23c3c", "#1c66e6", "#2ba95c", "#444444"]},
    "legend": {"orient": "none", "legendX": 471, "legendY": 37, "title": null, "padding": 0,
     "labelFont": "DejaVu Sans", "labelFontWeight": "bold", "labelFontSize": 37, "labelColor": "black", "labelLimit": 0,
     "symbolType": "circle", "symbolSize": 180, "symbolOpacity": 1, "symbolStrokeWidth": 0,
     "labelOffset": 42, "rowPadding": 17}}
  }}
],
"resolve": {"axis": {"x": "independent", "y": "independent"}}
}
